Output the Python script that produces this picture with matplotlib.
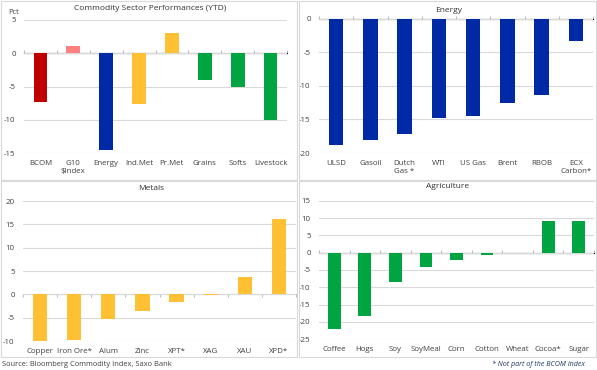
import matplotlib
matplotlib.use("Agg")
import matplotlib.pyplot as plt
from matplotlib.patches import Rectangle

plt.rcParams['font.family'] = ['Open Sans', 'DejaVu Sans']

# ---------------- data ----------------
sector_labels = ["BCOM", "G10\n$Index", "Energy", "Ind.Met", "Pr.Met", "Grains", "Softs", "Livestock"]
sector_values = [-7.3, 1.1, -14.6, -7.6, 3.0, -4.0, -5.15, -10.05]

energy_labels = ["ULSD", "Gasoil", "Dutch\nGas *", "WTI", "US Gas", "Brent", "RBOB", "ECX\nCarbon*"]
energy_values = [-18.85, -18.05, -17.2, -14.8, -14.45, -12.6, -11.3, -3.25]

metals_labels = ["Copper", "Iron Ore*", "Alum", "Zinc", "XPT*", "XAG", "XAU", "XPD*"]
metals_values = [-9.9, -9.8, -5.25, -3.5, -1.65, -0.15, 3.8, 16.25]

agri_labels = ["Coffee", "Hogs", "Soy", "SoyMeal", "Corn", "Cotton", "Wheat", "Cocoa*", "Sugar"]
agri_values = [-22.2, -18.25, -8.4, -4.15, -2.2, -0.75, 0.0, 9.25, 9.25]

RED = "#C00000"
PINK = "#FF7F7F"
BLUE = "#0029A5"
GOLD = "#FFC133"
GREEN = "#00A541"

sector_colors = [RED, PINK, BLUE, GOLD, GOLD, GREEN, GREEN, GREEN]

W, H = 597, 370
fig = plt.figure(figsize=(W / 100, H / 100), dpi=100)

TXT = "#404040"
GRID = "#D9D9D9"
AXL = "#BFBFBF"
FS = 5.7


def px_axes(x0, y0, x1, y1):
    return fig.add_axes([x0 / W, 1 - y1 / H, (x1 - x0) / W, (y1 - y0) / H])


def frame(x0, y0, x1, y1):
    fig.patches.append(Rectangle((x0 / W, 1 - y1 / H), (x1 - x0) / W, (y1 - y0) / H,
                                 transform=fig.transFigure, fill=False,
                                 edgecolor=GRID, linewidth=0.8))


def panel(box, labels, values, colors, ylim, yticks, title, title_xy):
    ax = px_axes(*box)
    n = len(labels)
    xs = list(range(n))
    ax.bar(xs, values, width=0.42, color=colors, zorder=3)
    ax.set_xlim(-0.5, n - 0.5)
    ax.set_ylim(*ylim)
    ax.set_yticks(yticks)
    ax.set_yticklabels([str(t) for t in yticks])
    ax.yaxis.grid(True, color=GRID, linewidth=0.8, zorder=0)
    for s in ax.spines.values():
        s.set_visible(False)
    ax.tick_params(axis='y', length=0, labelsize=FS, labelcolor=TXT, pad=6)
    ax.set_xticks(xs)
    ax.set_xticklabels(labels)
    ax.tick_params(axis='x', length=0, labelsize=FS, labelcolor=TXT, pad=5)
    # zero axis with category-boundary tick marks
    frac = (0 - ylim[0]) / (ylim[1] - ylim[0])
    sec = ax.secondary_xaxis(frac)
    sec.set_xticks([i - 0.5 for i in range(n + 1)])
    sec.set_xticklabels([""] * (n + 1))
    sec.tick_params(axis='x', direction='out', length=2.5, color=AXL, width=0.8)
    sec.spines['bottom'].set_color(AXL)
    sec.spines['bottom'].set_linewidth(0.8)
    fig.text(title_xy[0] / W, 1 - title_xy[1] / H, title, ha='center', va='center',
             fontsize=FS + 0.3, color="#303030")
    return ax


# panel frames
frame(0.5, 0.5, 297, 180)
frame(299, 0.5, 596, 180)
frame(0.5, 181, 297, 357)
frame(299, 181, 596, 357)

panel((24, 20, 287, 153), sector_labels, sector_values, sector_colors,
      (-15, 5), [-15, -10, -5, 0, 5], "Commodity Sector Performances (YTD)", (150, 9))
fig.text(8 / W, 1 - 13 / H, "Pct", fontsize=FS - 0.3, color=TXT, ha='left', va='center')

panel((319, 19, 593, 153), energy_labels, energy_values, [BLUE] * len(energy_values),
      (-20, 0), [-20, -15, -10, -5, 0], "Energy", (449, 10))

panel((23, 201, 296, 341), metals_labels, metals_values, [GOLD] * len(metals_values),
      (-10, 20), [-10, -5, 0, 5, 10, 15, 20], "Metals", (151, 188))

panel((319, 201, 594, 339), agri_labels, agri_values, [GREEN] * len(agri_values),
      (-25, 15), [-25, -20, -15, -10, -5, 0, 5, 10, 15], "Agriculture", (448, 187))

fig.text(2 / W, 1 - 364 / H, "Source: Bloomberg Commodity Index, Saxo Bank",
         fontsize=FS - 0.3, color="#404040", ha='left', va='center')
fig.text(585 / W, 1 - 364 / H, "* Not part of the BCOM Index",
         fontsize=FS - 0.6, color="#1F3864", ha='right', va='center', style='italic')

fig.savefig("out.png", dpi=100)
